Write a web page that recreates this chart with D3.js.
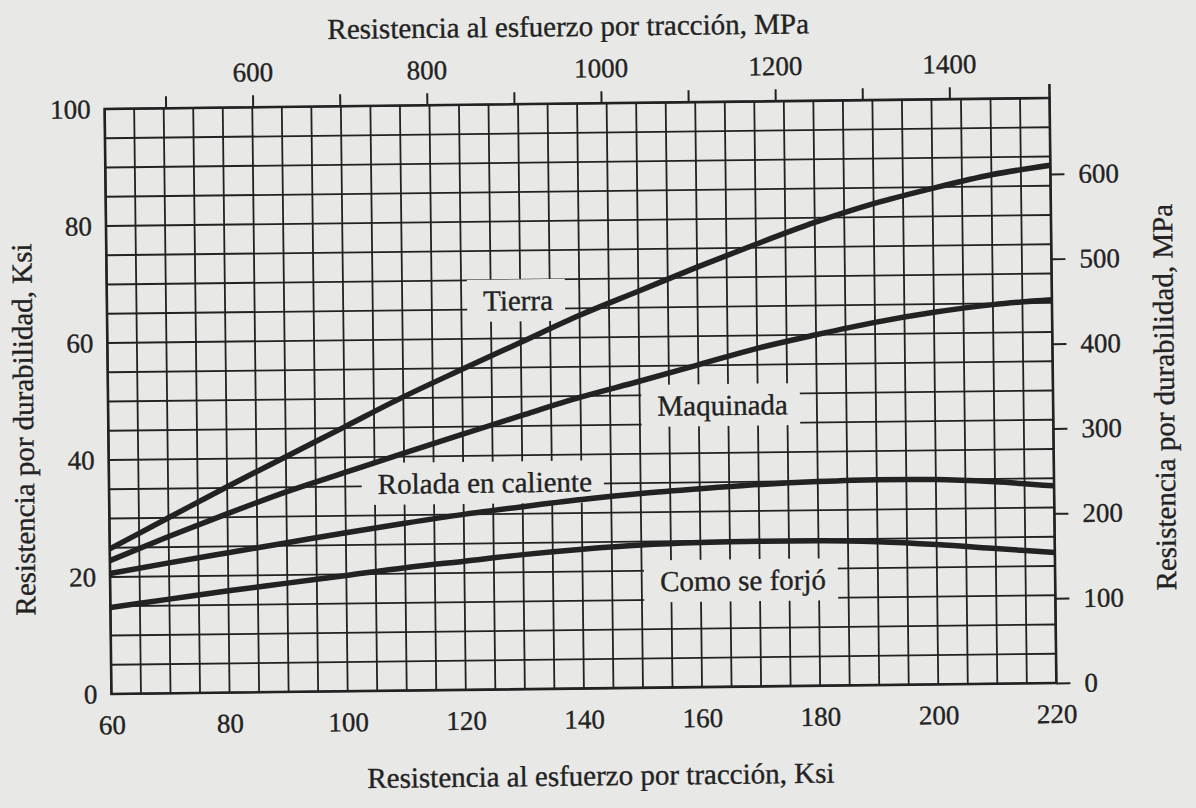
<!DOCTYPE html>
<html>
<head>
<meta charset="utf-8">
<script src="https://cdn.jsdelivr.net/npm/d3@7"></script>
<style>
body { margin: 0; background: #e8e8e6; }
text { font-family: "Liberation Serif", "DejaVu Serif", serif; fill: #222; stroke: #222; stroke-width: 0.35px; }
</style>
</head>
<body>
<div id="chart"></div>
<script>
// values (Ksi)
var sut       = [60, 70, 80, 90, 100, 110, 120, 130, 140, 150, 160, 170, 180, 190, 200, 210, 220];
var tierra    = [24.8, 30.0, 35.2, 40.2, 45.2, 50.2, 54.8, 59.3, 63.8, 67.8, 71.8, 75.6, 79.2, 82.3, 84.8, 87.0, 88.5];
var maquinada = [22.8, 26.8, 30.6, 34.2, 37.4, 40.6, 43.7, 46.8, 49.8, 52.4, 55.1, 57.8, 60.0, 62.0, 63.6, 64.8, 65.5];
var rolada    = [20.6, 22.3, 23.9, 25.5, 27.1, 28.6, 30.0, 31.2, 32.3, 33.2, 33.9, 34.5, 34.9, 35.1, 35.0, 34.5, 33.7];
var forjado   = [14.8, 16.1, 17.4, 18.6, 19.8, 21.0, 22.0, 23.0, 23.8, 24.4, 24.7, 24.8, 24.8, 24.5, 23.9, 23.1, 22.3];
var seriesNames = ["Tierra", "Maquinada", "Rolada en caliente", "Como se forjó"];

var ksiBottomTicks = [60, 80, 100, 120, 140, 160, 180, 200, 220];
var ksiLeftTicks = [0, 20, 40, 60, 80, 100];
var mpaTopTicks = [500, 600, 700, 800, 900, 1000, 1100, 1200, 1300, 1400];
var mpaTopLabels = [600, 800, 1000, 1200, 1400];
var mpaRightTicks = [0, 100, 200, 300, 400, 500, 600];
var gridKsiX = [60,65,70,75,80,85,90,95,100,105,110,115,120,125,130,135,140,145,150,155,160,165,170,175,180,185,190,195,200,205,210,215,220];
var gridKsiY = [0,5,10,15,20,25,30,35,40,45,50,55,60,65,70,75,80,85,90,95,100];

var W = 1196, H = 808;
var margin = {top: 103.5, left: 108},
	width = 945,
	height = 585;
var ink = "#222";
var paper = "#e8e8e6";

var svg = d3.select("#chart").append("svg")
	.attr("width", W)
	.attr("height", H);
svg.append("rect").attr("width", W).attr("height", H).attr("fill", paper);

// the scan is slightly tilted
var page = svg.append("g")
	.attr("transform", "rotate(-0.667," + (margin.left + width / 2) + "," + (margin.top + height / 2) + ")");
var g = page.append("g")
	.attr("transform", "translate(" + margin.left + "," + margin.top + ")");

var x = d3.scaleLinear().domain([60, 220]).range([0, width]);
var y = d3.scaleLinear().domain([0, 100]).range([height, 0]);
// top MPa scale as printed on the figure
var xTop = d3.scaleLinear().domain([430, 1515]).range([0, width]);
var yRight = d3.scaleLinear().domain([0, 100 * 6.895]).range([height, 0]);

//grid
g.append("g").selectAll("line")
	.data(gridKsiX)
	.enter().append("line")
	.attr("x1", function(d){return x(d);})
	.attr("x2", function(d){return x(d);})
	.attr("y1", 0)
	.attr("y2", height)
	.attr("stroke", ink)
	.attr("stroke-width", 1.8);
g.append("g").selectAll("line")
	.data(gridKsiY)
	.enter().append("line")
	.attr("y1", function(d){return y(d);})
	.attr("y2", function(d){return y(d);})
	.attr("x1", 0)
	.attr("x2", width)
	.attr("stroke", ink)
	.attr("stroke-width", 1.8);
g.append("rect")
	.attr("width", width)
	.attr("height", height)
	.attr("fill", "none")
	.attr("stroke", ink)
	.attr("stroke-width", 2.6);

//axes
var fs = "27px";
var bottomAxis = g.append("g")
	.attr("transform", "translate(0," + height + ")")
	.call(d3.axisBottom(x).tickValues(ksiBottomTicks).tickSize(0).tickPadding(38));
var leftAxis = g.append("g")
	.call(d3.axisLeft(y).tickValues(ksiLeftTicks).tickSize(0).tickPadding(14));
var topAxis = g.append("g")
	.call(d3.axisTop(xTop).tickValues(mpaTopTicks).tickSize(12).tickPadding(14)
		.tickFormat(function(d){return mpaTopLabels.indexOf(d) >= 0 ? d : "";}));
var rightAxis = g.append("g")
	.attr("transform", "translate(" + width + ",0)")
	.call(d3.axisRight(yRight).tickValues(mpaRightTicks).tickSize(14).tickPadding(14));

[bottomAxis, leftAxis, topAxis, rightAxis].forEach(function(a){
	a.select(".domain").remove();
	a.selectAll("line").attr("stroke", ink).attr("stroke-width", 2);
	a.selectAll("text")
		.style("font-size", fs)
		.style("font-family", "'Liberation Serif', serif")
		.attr("fill", ink);
});
bottomAxis.selectAll("text").attr("dy", "0").attr("y", 40);
topAxis.selectAll("text").attr("dy", "0").attr("y", -26);

// right edge runs a little above the frame
g.append("line")
	.attr("x1", width).attr("x2", width)
	.attr("y1", -14).attr("y2", 0)
	.attr("stroke", ink).attr("stroke-width", 2.6);

//axis titles
var tfs = "29px";
g.append("text")
	.attr("x", width / 2 - 8)
	.attr("y", -margin.top + 36)
	.attr("text-anchor", "middle")
	.style("font-size", tfs)
	.text("Resistencia al esfuerzo por tracción, MPa");
g.append("text")
	.attr("x", width / 2 + 16)
	.attr("y", height + 97)
	.attr("text-anchor", "middle")
	.style("font-size", tfs)
	.text("Resistencia al esfuerzo por tracción, Ksi");
g.append("text")
	.attr("transform", "rotate(-90)")
	.attr("x", -(height / 2) - 27)
	.attr("y", -margin.left + 33)
	.attr("text-anchor", "middle")
	.style("font-size", tfs)
	.text("Resistencia por durabilidad, Ksi");
g.append("text")
	.attr("transform", "rotate(-90)")
	.attr("x", -(height / 2) - 8)
	.attr("y", width + 121)
	.attr("text-anchor", "middle")
	.style("font-size", tfs)
	.text("Resistencia por durabilidad, MPa");

//curve labels with paper behind them
var labelSpots = [
	{name: seriesNames[0], k: 123.7, v: 66.5},
	{name: seriesNames[1], k: 153.0, v: 48.2},
	{name: seriesNames[2], k: 105.5, v: 35.4},
	{name: seriesNames[3], k: 153.1, v: 18.2}
];
labelSpots.forEach(function(s){
	var lg = g.append("g");
	var box = lg.append("rect").attr("fill", paper);
	var t = lg.append("text")
		.attr("x", x(s.k))
		.attr("y", y(s.v))
		.attr("dy", "0.35em")
		.style("font-size", tfs)
		.text(s.name);
	var b = t.node().getBBox();
	box.attr("x", b.x - 16)
		.attr("y", b.y - 5)
		.attr("width", b.width + 28)
		.attr("height", b.height + 10);
});

//curves
var line = d3.line()
	.x(function(d){return x(d[0]);})
	.y(function(d){return y(d[1]);})
	.curve(d3.curveMonotoneX);
[tierra, maquinada, rolada, forjado].forEach(function(vals){
	g.append("path")
		.datum(sut.map(function(k, i){return [k, vals[i]];}))
		.attr("d", line)
		.attr("fill", "none")
		.attr("stroke", ink)
		.attr("stroke-width", 5.5)
		.attr("stroke-linecap", "butt");
});
</script>
</body>
</html>
